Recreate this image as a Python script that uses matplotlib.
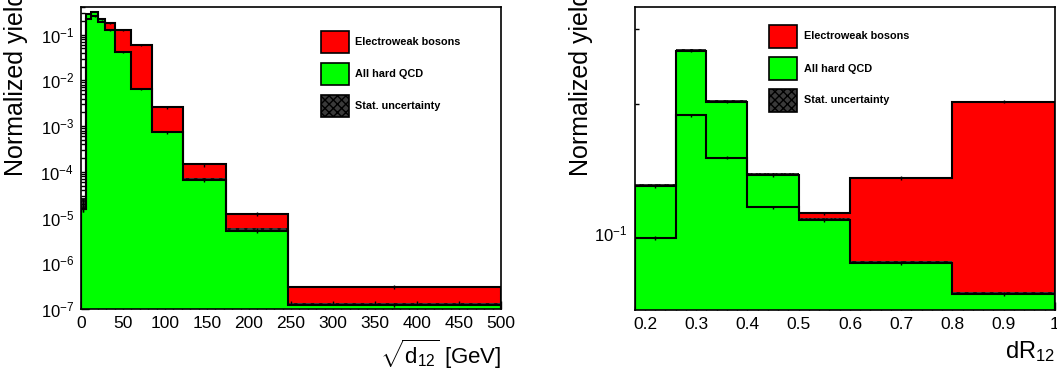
import numpy as np
import matplotlib
matplotlib.use('Agg')
import matplotlib.pyplot as plt
from matplotlib.patches import Rectangle
from matplotlib.ticker import LogLocator, NullFormatter, MultipleLocator

plt.rcParams['font.family'] = 'Liberation Sans'
plt.rcParams['mathtext.fontset'] = 'custom'
plt.rcParams['mathtext.rm'] = 'Liberation Sans'
plt.rcParams['mathtext.it'] = 'Liberation Sans:italic'
plt.rcParams['mathtext.bf'] = 'Liberation Sans:bold'

# sqrt(d12) spectrum, bin edges in GeV
edges_d12 = [0, 5.4, 12.3, 20.3, 29.2, 41.1, 59, 84.3, 121, 173, 246, 500]
qcd_d12 = [1.5e-5, 0.289, 0.312, 0.216, 0.124, 0.0416, 0.0064, 7.4e-4, 6.7e-5, 5.2e-6, 1.2e-7]
ew_d12 = [1.5e-5, 0.22, 0.25, 0.19, 0.177, 0.124, 0.0583, 2.6e-3, 1.45e-4, 1.21e-5, 3.0e-7]
qcd_d12_relerr = [0.8, 0.01, 0.01, 0.01, 0.02, 0.03, 0.05, 0.08, 0.1, 0.12, 0.12]
ew_d12_relerr = [0.1, 0.01, 0.01, 0.01, 0.02, 0.03, 0.05, 0.08, 0.1, 0.12, 0.12]

# dR12 distribution
edges_dr = [0.18, 0.26, 0.32, 0.40, 0.50, 0.60, 0.80, 1.00]
qcd_dr = [0.129, 0.266, 0.2025, 0.137, 0.1074, 0.0852, 0.0722]
ew_dr = [0.0977, 0.1886, 0.150, 0.1149, 0.1113, 0.1347, 0.2025]
qcd_dr_relerr = [0.01, 0.008, 0.008, 0.01, 0.01, 0.01, 0.012]
ew_dr_relerr = [0.01, 0.008, 0.008, 0.01, 0.01, 0.01, 0.008]

legend_labels = ['Electroweak bosons', 'All hard QCD', 'Stat. uncertainty']
RED = '#ff0000'
GREEN = '#00ff00'


def draw_hists(ax, edges, qcd, ew, qcd_rel, ew_rel, base):
    edges = np.array(edges)
    qcd = np.array(qcd)
    ew = np.array(ew)
    qcd_rel = np.array(qcd_rel)
    ew_rel = np.array(ew_rel)
    centers = 0.5 * (edges[:-1] + edges[1:])
    ax.stairs(ew, edges, baseline=base, fill=True, color=RED, lw=0, zorder=1)
    # stat band: only the upper half pokes out above the QCD fill
    ax.stairs(qcd * (1 + qcd_rel), edges, baseline=qcd, fill=True,
              facecolor='#3a3a3a', edgecolor='#111111', hatch='xxxx',
              lw=0, zorder=1.5)
    ax.stairs(qcd, edges, baseline=base, fill=True, color=GREEN, lw=0, zorder=2)
    ax.stairs(qcd, edges, baseline=base, color='k', lw=1.5, zorder=3)
    ax.stairs(ew, edges, baseline=base, color='k', lw=1.5, zorder=3)
    for vals, rel in ((qcd, qcd_rel), (ew, ew_rel)):
        err = [vals * np.minimum(rel, 0.1), vals * rel]
        ax.errorbar(centers, vals, yerr=err, fmt='none', ecolor='k',
                    elinewidth=1, zorder=4)


def draw_legend(ax, x0, x1, tops, box_h, text_x):
    styles = [dict(facecolor=RED), dict(facecolor=GREEN),
              dict(facecolor='#3a3a3a', hatch='xxxx')]
    for top, style, label in zip(tops, styles, legend_labels):
        ax.add_patch(Rectangle((x0, top - box_h), x1 - x0, box_h,
                               transform=ax.transAxes, edgecolor='k',
                               lw=1.2, zorder=6, clip_on=False, **style))
        ax.text(text_x, top - box_h / 2, label, transform=ax.transAxes,
                fontsize=7.8, fontweight='bold', va='center', ha='left',
                zorder=6)


def style_axes(ax):
    for s in ax.spines.values():
        s.set_linewidth(1.2)
        s.set_zorder(5)
    ax.set_yscale('log')
    ax.yaxis.set_major_locator(LogLocator(base=10, numticks=20))
    ax.yaxis.set_minor_locator(LogLocator(base=10, subs=np.arange(2, 10), numticks=20))
    ax.yaxis.set_minor_formatter(NullFormatter())
    ax.tick_params(which='both', direction='in', top=False, right=False,
                   width=1, pad=5, zorder=5)
    ax.tick_params(axis='x', labelsize=12.5)
    ax.tick_params(axis='y', labelsize=12)
    ax.tick_params(which='major', length=6)
    ax.tick_params(which='minor', length=3)
    ax.set_ylabel('Normalized yield', fontsize=18, loc='top')


fig = plt.figure(figsize=(10.57, 3.74), dpi=100)
ax1 = fig.add_axes([0.0766, 0.1738, 0.3974, 0.8075])
ax2 = fig.add_axes([0.6005, 0.171, 0.3976, 0.810])

# left: sqrt(d12)
style_axes(ax1)
draw_hists(ax1, edges_d12, qcd_d12, ew_d12, qcd_d12_relerr, ew_d12_relerr, 1e-9)
ax1.set_xlim(0, 500)
ax1.set_ylim(1e-7, 0.402)
ax1.xaxis.set_major_locator(MultipleLocator(50))
ax1.xaxis.set_minor_locator(MultipleLocator(10))
ax1.set_xlabel(r'$\sqrt{\mathrm{d}_{12}}$ [GeV]', fontsize=16, loc='right')
ax1.xaxis.set_label_coords(1.0, -0.095)
ax1.yaxis.set_label_coords(-0.125, 1.05)
draw_legend(ax1, 0.571, 0.639, [0.9205, 0.8156, 0.7086], 0.073, 0.652)

# right: dR12
style_axes(ax2)
draw_hists(ax2, edges_dr, qcd_dr, ew_dr, qcd_dr_relerr, ew_dr_relerr, 0.01)
ax2.set_xlim(0.18, 1.0)
ax2.set_ylim(0.0663, 0.3365)
ax2.xaxis.set_major_locator(MultipleLocator(0.1))
ax2.xaxis.set_minor_locator(MultipleLocator(0.02))
ax2.xaxis.set_major_formatter(lambda v, p: '1' if abs(v - 1) < 1e-9 else f'{v:.1f}')
ax2.set_xlabel(r'dR$_{12}$', fontsize=17, loc='right')
ax2.xaxis.set_label_coords(1.0, -0.095)
ax2.yaxis.set_label_coords(-0.10, 1.05)
draw_legend(ax2, 0.320, 0.387, [0.9406, 0.834, 0.7294], 0.075, 0.4035)

fig.savefig('out.png', dpi=100)
